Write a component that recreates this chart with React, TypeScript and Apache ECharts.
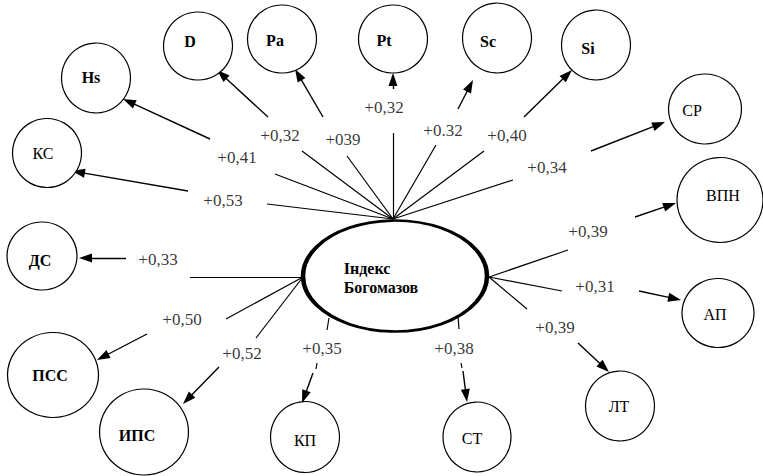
import { useEffect, useRef } from "react";
import * as echarts from "echarts";

// Nodes (circles)
const nodeNames = ["D", "Pa", "Pt", "Sc", "Si", "Hs", "КС", "СР", "ВПН", "ДС", "ПСС", "ИПС", "КП", "СТ", "ЛТ", "АП"];
const nodeBold = [true, true, true, true, true, true, false, false, false, true, true, true, false, false, false, false];
const nodeX = [198, 282, 393, 497, 596, 96, 47, 705, 720, 42, 53, 144, 305, 477, 620, 718];
const nodeY = [46, 39, 39, 38, 45, 78, 153, 109, 200, 256, 375, 432, 437, 437, 406, 313];
const nodeW = [69, 69, 69, 69, 69, 69, 69, 73, 86, 70, 91, 89, 69, 68, 69, 72];
const nodeH = [68, 68, 68, 70, 70, 70, 69, 70, 85, 68, 85, 86, 71, 70, 70, 69];
const nodeTextX = [190, 275, 384, 488, 588, 91, 43, 692, 723, 40, 50, 137, 305, 472, 619, 715];
const nodeTextY = [41, 40, 40, 41, 48, 77, 153, 110, 195, 260, 375, 435, 440, 438, 406, 314];

// Central node
const centerName = "Індекс\nБогомазов";
const centerX = 395;
const centerY = 276;

// Correlation coefficients on edges
const edgeValues = ["+0,53", "+0,41", "+0,32", "+039", "+0,32", "+0.32", "+0,40", "+0,34", "+0,39", "+0,31", "+0,39", "+0,38", "+0,35", "+0,33", "+0,50", "+0,52"];
const edgeLabelX = [223, 237, 280, 343, 384, 443, 507, 547, 588, 595, 555, 454, 322, 158, 182, 242];
const edgeLabelY = [200, 157, 135, 139, 107, 130, 135, 167, 231, 286, 327, 348, 348, 259, 319, 353];

// Line segments from central node to labels
const innerSegs = [
  [393, 219, 267, 204],
  [393, 219, 275, 174],
  [393, 219, 302, 151],
  [393, 219, 347, 156],
  [393, 219, 393, 133],
  [393, 219, 436, 145],
  [393, 219, 484, 151],
  [393, 219, 513, 180],
  [489, 277, 568, 250],
  [489, 277, 562, 291],
  [489, 277, 527, 309],
  [458, 316, 459, 329],
  [329, 318, 327, 330],
  [303, 277, 190, 277],
  [303, 277, 226, 319],
  [303, 277, 256, 338],
  [461, 363, 462, 368],
  [317, 363, 316, 369],
];

// Arrow segments from labels to nodes (end = arrow tip)
const arrowSegs = [
  [188, 191, 72, 171],
  [210, 139, 123, 99],
  [268, 117, 217, 70],
  [323, 117, 295, 69],
  [393, 89, 393, 73],
  [458, 109, 473, 80],
  [524, 117, 572, 70],
  [591, 151, 665, 122],
  [635, 217, 676, 203],
  [639, 291, 681, 300],
  [578, 343, 609, 372],
  [463, 371, 467, 402],
  [313, 373, 302, 403],
  [126, 258, 79, 258],
  [147, 334, 97, 360],
  [219, 367, 183, 404],
];

const FONT = "Liberation Serif, Times New Roman, serif";
const HEAD_W = 9;
const HEAD_L = 13;

export default function App() {
  const ref = useRef<HTMLDivElement>(null);
  useEffect(() => {
    const chart = echarts.init(ref.current!, null, { renderer: "svg" });

    const arrowData = arrowSegs.map((s) => {
      const dx = s[2] - s[0];
      const dy = s[3] - s[1];
      const len = Math.sqrt(dx * dx + dy * dy);
      const ex = s[2] - (dx / len) * (HEAD_L / 2);
      const ey = s[3] - (dy / len) * (HEAD_L / 2);
      return { coords: [[s[0], s[1]], [ex, ey]] };
    });

    const option: any = {
      animation: false,
      backgroundColor: "#fff",
      textStyle: { fontFamily: FONT },
      grid: { left: 0, right: 0, top: 0, bottom: 0 },
      xAxis: { type: "value", min: 0, max: 763, show: false },
      yAxis: { type: "value", min: 0, max: 476, inverse: true, show: false },
      series: [
        {
          type: "lines",
          coordinateSystem: "cartesian2d",
          silent: true,
          z: 1,
          symbol: "none",
          lineStyle: { color: "#000", width: 1.2, opacity: 1, curveness: 0 },
          data: innerSegs.map((s) => ({ coords: [[s[0], s[1]], [s[2], s[3]]] })),
        },
        {
          type: "lines",
          coordinateSystem: "cartesian2d",
          silent: true,
          z: 1,
          symbol: ["none", "triangle"],
          symbolSize: [1, [HEAD_W, HEAD_L]],
          lineStyle: { color: "#000", width: 1.4, opacity: 1, curveness: 0 },
          itemStyle: { color: "#000" },
          data: arrowData,
        },
        {
          type: "scatter",
          silent: true,
          z: 3,
          symbol: "circle",
          itemStyle: { color: "#fff", borderColor: "#000", borderWidth: 1.2, opacity: 1 },
          label: {
            show: true,
            position: "inside",
            color: "#000",
            textBorderWidth: 0,
            fontFamily: FONT,
            fontSize: 16,
            formatter: (p: any) => p.name,
          },
          data: nodeNames.map((n, i) => ({
            name: n,
            value: [nodeX[i], nodeY[i]],
            symbolSize: [nodeW[i], nodeH[i]],
            label: {
              fontWeight: nodeBold[i] ? "bold" : "normal",
              offset: [nodeTextX[i] - nodeX[i], nodeTextY[i] - nodeY[i]],
            },
          })),
        },
        {
          type: "scatter",
          silent: true,
          z: 3,
          symbol: "circle",
          itemStyle: { color: "#fff", borderColor: "#000", borderWidth: 3.5, opacity: 1 },
          label: {
            show: true,
            position: [43, 40],
            align: "left",
            verticalAlign: "top",
            color: "#000",
            fontFamily: FONT,
            fontSize: 16,
            fontWeight: "bold",
            lineHeight: 19,
            formatter: (p: any) => p.name,
          },
          data: [{ name: centerName, value: [centerX, centerY], symbolSize: [184, 111] }],
        },
        {
          type: "scatter",
          silent: true,
          z: 4,
          symbolSize: 0,
          itemStyle: { color: "#000" },
          label: {
            show: true,
            position: "inside",
            color: "#000",
            textBorderWidth: 0,
            fontFamily: FONT,
            fontSize: 17,
            formatter: (p: any) => p.name,
          },
          data: edgeValues.map((v, i) => ({ name: v, value: [edgeLabelX[i], edgeLabelY[i]] })),
        },
      ],
    };
    chart.setOption(option);
    return () => chart.dispose();
  }, []);
  return (
    <div
      ref={ref}
      style={{ position: "absolute", left: 0, top: 0, width: 763, height: 476, background: "#fff" }}
    />
  );
}
